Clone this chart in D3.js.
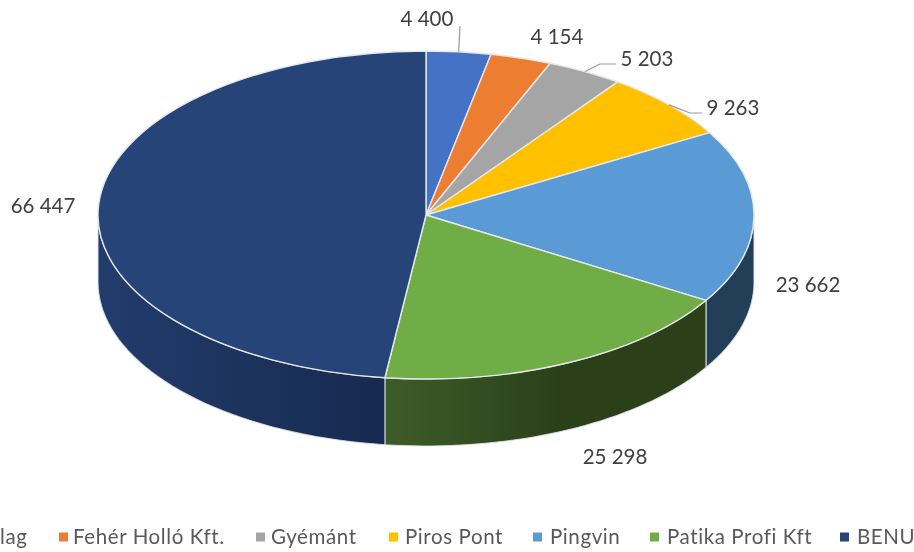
<!DOCTYPE html>
<html><head><meta charset="utf-8">
<script src="https://cdn.jsdelivr.net/npm/d3@7"></script>
<style>
html,body{margin:0;padding:0;background:#fff;overflow:hidden}
svg{display:block}
text{font-family:Lato,"Open Sans",sans-serif;fill:#595959}
</style></head><body><svg id="c" width="914" height="552"></svg>
<script>
const categories=["lag","Fehér Holló Kft.","Gyémánt","Piros Pont","Pingvin","Patika Profi Kft","BENU"];
const values=[4400,4154,5203,9263,23662,25298,66447];
const valueLabels=["4 400","4 154","5 203","9 263","23 662","25 298","66 447"];
const colors=["#4472c4","#ed7d31","#a5a5a5","#ffc000","#5b9bd5","#70ad47","#264478"];
const wallColors=[null,null,null,null,["#223f57","#223f57"],["#3e5c29","#2b4019"],["#223c6c","#172a50"]];

const W=914,H=552,cx=426,cy=215,rx=328,ry=164,depth=67;
const svg=d3.select("#c");
const defs=svg.append("defs");
const pie=d3.pie().sort(null).value(d=>d);
const arcs=pie(values);
const px=a=>cx+rx*Math.sin(a), py=a=>cy-ry*Math.cos(a);
const chart=svg.append("g").style("filter","blur(0.55px)");

// side walls
const lo=Math.PI/2, hi=Math.PI*1.5;
arcs.forEach((s,i)=>{
  const a0=Math.max(s.startAngle,lo), a1=Math.min(s.endAngle,hi);
  if(a1<=a0) return;
  const id="wall"+i;
  const g=defs.append("linearGradient").attr("id",id).attr("gradientUnits","userSpaceOnUse")
    .attr("x1",px(a0)).attr("x2",px(a1)).attr("y1",0).attr("y2",0);
  const w=wallColors[i]||[colors[i],colors[i]];
  g.append("stop").attr("offset",0).attr("stop-color",w[1]);
  g.append("stop").attr("offset",i===5?0.45:1).attr("stop-color",i===5?w[1]:w[0]);
  if(i===5) g.append("stop").attr("offset",1).attr("stop-color",w[0]);
  const n=40, top=d3.range(n+1).map(k=>{const a=a0+(a1-a0)*k/n;return [px(a),py(a)];});
  const bottom=top.map(p=>[p[0],p[1]+depth]).reverse();
  chart.append("path").attr("d",d3.line()(top.concat(bottom))+"Z")
    .attr("fill",`url(#${id})`).attr("stroke","#dfe3e7").attr("stroke-width",1.1).attr("stroke-opacity",.85);
});

// top faces
const arc=d3.arc().innerRadius(0).outerRadius(rx);
const topG=chart.append("g").attr("transform",`translate(${cx},${cy}) scale(1,${ry/rx})`);
topG.selectAll("path").data(arcs).join("path")
  .attr("d",arc).attr("fill",(d,i)=>colors[i])
  .attr("stroke","#e4e8ec").attr("stroke-width",1.4)
  .attr("vector-effect","non-scaling-stroke").attr("stroke-linejoin","round");

// leader lines (from the slice's mid-angle)
const mid=s=>(s.startAngle+s.endAngle)/2;
const leaders=[{i:0,pts:[[460,26]]},{i:2,pts:[[616,64],[600,64]]},{i:3,pts:[[702,113],[690,113]]}];
leaders.forEach(l=>{
  const m=mid(arcs[l.i]);
  chart.append("path").attr("fill","none").attr("stroke","#999").attr("stroke-width",1.2)
    .attr("d",d3.line()(l.pts.concat([[px(m),py(m)]])));
});

// value labels
const labelPos=[[427,26],[557,44],[647,66],[733,115],[808,292],[615,464],[43,213]];
chart.selectAll("text.v").data(valueLabels).join("text").attr("class","v")
  .attr("x",(d,i)=>labelPos[i][0]).attr("y",(d,i)=>labelPos[i][1])
  .attr("text-anchor","middle").attr("font-size",20.5).style("fill","#404040").text(d=>d);

// legend
const legendX=[null,59,256,389,533,650,840];
const legendTextX=[0,73,271,405,550,667,857];
categories.forEach((c,i)=>{
  if(legendX[i]!==null) chart.append("rect").attr("x",legendX[i]).attr("y",532.5).attr("width",9).attr("height",9).attr("fill",colors[i]);
  chart.append("text").attr("x",legendTextX[i]).attr("y",544).attr("font-size",20.5).attr("letter-spacing",0.6).text(c);
});
</script></body></html>
